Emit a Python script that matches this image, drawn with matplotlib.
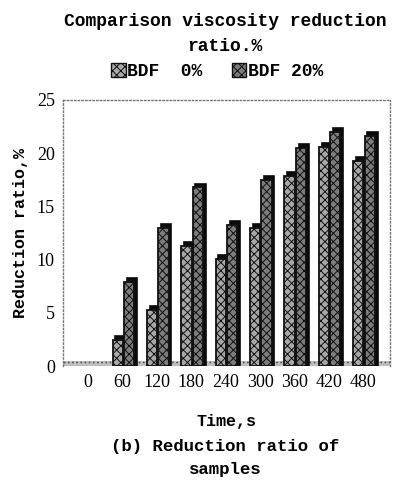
import numpy as np
import matplotlib
matplotlib.use("Agg")
import matplotlib.pyplot as plt
from matplotlib.patches import Patch

# values
times = ["0", "60", "120", "180", "240", "300", "360", "420", "480"]
bdf_0 = [0, 2.5, 5.3, 11.3, 10.1, 13.0, 17.9, 20.6, 19.3]
bdf_20 = [0, 7.9, 13.0, 16.8, 13.3, 17.5, 20.5, 22.0, 21.6]
series_labels = ["BDF  0%", "BDF 20%"]
yticks = [0, 5, 10, 15, 20, 25]

mono = {"family": "Liberation Mono", "weight": "bold"}
serif = "Liberation Serif"

plt.rcParams["hatch.linewidth"] = 0.7
plt.rcParams["hatch.color"] = "#2a2a2a"

fig = plt.figure(figsize=(4.02, 4.83), dpi=100)
ax = fig.add_axes([0.157, 0.242, 0.813, 0.551])

x = np.arange(len(times))
w = 0.3
depth_x, depth_y = 0.08, 0.35


def bars_3d(xs, vals, face, hatch):
    vals = np.array(vals, dtype=float)
    keep = vals > 0  # zero bars would leave a stray edge line
    xs, vals = xs[keep], vals[keep]
    # dark side/top face, drawn a bit behind and up
    ax.bar(xs + depth_x, vals + depth_y, w, color="#0a0a0a",
           edgecolor="#0a0a0a", linewidth=1.2, zorder=2)
    ax.bar(xs, vals, w, color=face, edgecolor="#111111", hatch=hatch,
           linewidth=1.3, zorder=3)


bars_3d(x - 0.14, bdf_0, "#a8a8a8", "xxxx")
bars_3d(x + 0.19, bdf_20, "#7c7c7c", "xxxx")

# floor strip
ax.axhspan(0, 0.5, facecolor="#c0c0c0", edgecolor="#555555", hatch="....",
           linewidth=0, zorder=1)

ax.set_xlim(-0.73, 8.78)
ax.set_ylim(0, 25)
ax.set_xticks(x)
ax.set_xticklabels(times, fontfamily=serif, fontsize=13)
ax.set_yticks(yticks)
ax.set_yticklabels([str(t) for t in yticks], fontfamily=serif, fontsize=13)
ax.tick_params(length=0, pad=6)
for s in ax.spines.values():
    s.set_linestyle(":")
    s.set_color("#777777")
    s.set_linewidth(1)
ax.spines["bottom"].set_visible(False)

ax.set_ylabel("Reduction ratio,%", fontsize=12, labelpad=6, **mono)
ax.set_xlabel("Time,s", fontsize=12, labelpad=16, **mono)

fig.text(0.56, 0.955, "Comparison viscosity reduction", ha="center",
         va="center", fontsize=13, **mono)
fig.text(0.56, 0.903, "ratio.%", ha="center", va="center", fontsize=13, **mono)

handles = [Patch(facecolor="#a8a8a8", edgecolor="#111111", hatch="xxxx"),
           Patch(facecolor="#7c7c7c", edgecolor="#111111", hatch="xxxx")]
fig.legend(handles, series_labels, loc="center", bbox_to_anchor=(0.54, 0.852),
           ncol=2, frameon=False, prop={"family": "Liberation Mono",
                                        "weight": "bold", "size": 13},
           handlelength=0.8, handleheight=0.8, handletextpad=0.1,
           columnspacing=1.6)

fig.text(0.56, 0.075, "(b) Reduction ratio of", ha="center", va="center",
         fontsize=12.5, **mono)
fig.text(0.56, 0.028, "samples", ha="center", va="center", fontsize=12.5, **mono)

fig.savefig("out.png", dpi=100, facecolor="white")
